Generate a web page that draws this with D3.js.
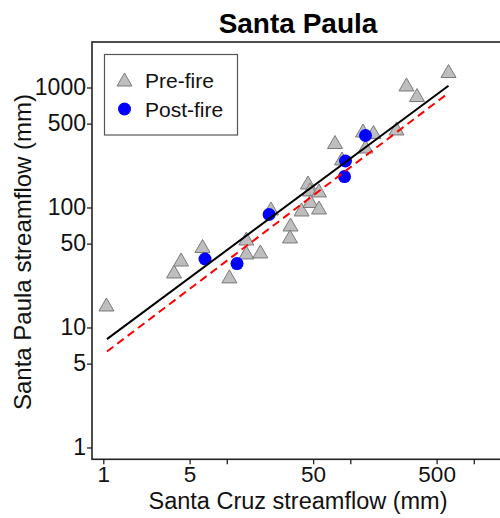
<!DOCTYPE html>
<html>
<head>
<meta charset="utf-8">
<script src="https://cdn.jsdelivr.net/npm/d3@7"></script>
<style>
  body { margin: 0; background: #fff; }
  text { font-family: "Liberation Sans", Arial, sans-serif; }
</style>
</head>
<body>
<div id="chart"></div>
<script>
// data (mm)
var preX = [1.06, 3.74, 4.26, 6.36, 10.5, 14.4, 14.4, 18.7, 22.8, 32.8, 32.5, 40.3, 45.4, 47.2,
            55.8, 47.6, 55.8, 75.2, 85.7, 126.8, 154, 132.8, 236.7, 285, 346.7, 624];
var preY = [15.4, 29.0, 36.5, 47.3, 26.4, 54.6, 41.8, 42.6, 97.2, 71.5, 56.8, 95.3, 160, 140,
            137.3, 112.2, 99, 348, 253.7, 434, 421.7, 319, 451, 1049, 857, 1359];
var postX = [6.66, 12.1, 22.0, 89.8, 91.4, 132.8];
var postY = [37.2, 34.1, 87.4, 181, 244, 398];

// fitted lines (end points)
var fitX = [1.07, 624];
var fitY = [8.0, 1035];
var dashX = [1.07, 594];
var dashY = [6.3, 866];

var xTicks = [1, 5, 10, 50, 100, 500, 1000];
var xLabeled = [1, 5, 50, 500];
var yTicks = [1, 5, 10, 50, 100, 500, 1000];

var width = 500, height = 518;
var svg = d3.select("#chart")
  .append("svg")
    .attr("width", width)
    .attr("height", height);

var x = d3.scaleLog().domain([0.81, 1630]).range([92, 500]);
var y = d3.scaleLog().domain([0.797, 2394]).range([459.3, 42]);

// plot box (right side runs off the picture)
svg.append("rect")
  .attr("x", 92).attr("y", 42)
  .attr("width", 420).attr("height", 417.3)
  .attr("fill", "none").attr("stroke", "#222").attr("stroke-width", 1.6);

// X axis
var xAxis = svg.append("g")
  .attr("transform", "translate(0," + 459.3 + ")")
  .call(d3.axisBottom(x).tickValues(xTicks).tickSize(5).tickSizeOuter(0).tickPadding(2)
    .tickFormat(function (d) { return xLabeled.indexOf(d) >= 0 ? d : ""; }));
xAxis.select(".domain").remove();
xAxis.selectAll("line").attr("stroke", "#222").attr("stroke-width", 1.3);
xAxis.selectAll("text").attr("font-size", 22.5).attr("fill", "#111")
  .style("font-family", "'Liberation Sans', Arial, sans-serif");

// Y axis
var yAxis = svg.append("g")
  .attr("transform", "translate(92,0)")
  .call(d3.axisLeft(y).tickValues(yTicks).tickSize(5).tickSizeOuter(0).tickPadding(1)
    .tickFormat(function (d) { return d; }));
yAxis.select(".domain").remove();
yAxis.selectAll("line").attr("stroke", "#222").attr("stroke-width", 1.3);
yAxis.selectAll("text").attr("font-size", 23).attr("fill", "#111")
  .style("font-family", "'Liberation Sans', Arial, sans-serif");

// triangle marker
var tri = "M0,-7L7.5,6L-7.5,6Z";

// pre-fire points
svg.append("g")
  .selectAll("path")
  .data(preX)
  .enter()
  .append("path")
    .attr("d", tri)
    .attr("transform", function (d, i) { return "translate(" + x(d) + "," + y(preY[i]) + ")"; })
    .attr("fill", "#bebebe")
    .attr("stroke", "#7a7a7a")
    .attr("stroke-width", 1);

// post-fire points
svg.append("g")
  .selectAll("circle")
  .data(postX)
  .enter()
  .append("circle")
    .attr("cx", function (d) { return x(d); })
    .attr("cy", function (d, i) { return y(postY[i]); })
    .attr("r", 6.5)
    .attr("fill", "#0000ff");

// fit lines
var line = d3.line()
  .x(function (d) { return x(d[0]); })
  .y(function (d) { return y(d[1]); });

svg.append("path")
  .datum(dashX.map(function (d, i) { return [d, dashY[i]]; }))
  .attr("d", line)
  .attr("fill", "none")
  .attr("stroke", "#ff0000")
  .attr("stroke-width", 2)
  .attr("stroke-dasharray", "8,5");

svg.append("path")
  .datum(fitX.map(function (d, i) { return [d, fitY[i]]; }))
  .attr("d", line)
  .attr("fill", "none")
  .attr("stroke", "#000")
  .attr("stroke-width", 2);

// legend
var legend = svg.append("g");
legend.append("rect")
  .attr("x", 104.5).attr("y", 54.5)
  .attr("width", 133).attr("height", 80.5)
  .attr("fill", "#fff").attr("stroke", "#555").attr("stroke-width", 1.2);
legend.append("path")
  .attr("d", tri)
  .attr("transform", "translate(124.5,80)")
  .attr("fill", "#bebebe").attr("stroke", "#7a7a7a");
legend.append("circle")
  .attr("cx", 124.5).attr("cy", 109)
  .attr("r", 6.5).attr("fill", "#0000ff");
legend.append("text")
  .attr("x", 145).attr("y", 87.5)
  .attr("font-size", 21).attr("fill", "#111")
  .text("Pre-fire");
legend.append("text")
  .attr("x", 145).attr("y", 116.5)
  .attr("font-size", 21).attr("fill", "#111")
  .text("Post-fire");

// title
svg.append("text")
  .attr("x", 298).attr("y", 33)
  .attr("text-anchor", "middle")
  .attr("font-size", 28).attr("font-weight", "bold")
  .text("Santa Paula");

// axis titles
svg.append("text")
  .attr("x", 298).attr("y", 508.5)
  .attr("text-anchor", "middle")
  .attr("font-size", 23.5).attr("fill", "#111")
  .text("Santa Cruz streamflow (mm)");

svg.append("text")
  .attr("transform", "translate(31,252) rotate(-90)")
  .attr("text-anchor", "middle")
  .attr("font-size", 24).attr("fill", "#111")
  .text("Santa Paula streamflow (mm)");
</script>
</body>
</html>
